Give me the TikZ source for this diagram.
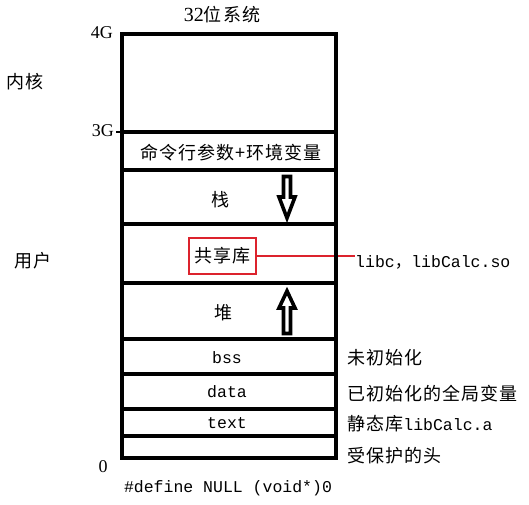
\documentclass[tikz,border=0pt]{standalone}
\usepackage{fontspec}
\setmainfont{Liberation Serif}
\setmonofont{Liberation Mono}
\newfontfamily\cjk[LetterSpace=6]{Noto Sans CJK SC}
\definecolor{libred}{RGB}{220,35,45}
\begin{document}
\begin{tikzpicture}[x=1pt,y=-1pt,
  outerbox/.style={line width=4.5pt},
  divider/.style={line width=4pt},
  hollow/.style={line width=3.6pt,fill=white,line join=miter},
  zh/.style={font=\cjk\fontsize{18}{18}\selectfont,inner sep=0pt},
  mono/.style={font=\ttfamily\fontsize{16.5}{16.5}\selectfont,inner sep=0pt},
  num/.style={font=\rmfamily\fontsize{18}{18}\selectfont,inner sep=0pt},
  redbox/.style={draw=libred,line width=2.6pt,minimum width=67pt,minimum height=36pt,inner sep=0pt},
  redline/.style={draw=libred,line width=2.4pt}]
\useasboundingbox (0,0) rectangle (529,504);
\fill[white] (0,0) rectangle (529,504);

% labels (title, addresses, regions)
\node[zh] (title) at (222,15) {{\rmfamily\fontsize{20}{20}\selectfont 32}位系统};
\node[num,anchor=east] (g4) at (113,33) {4G};
\node[num,anchor=east] (g3) at (114,131) {3G};
\node[num] (g0) at (103,467) {0};
\node[mono] (null) at (228,488) {\#define NULL (void*)0};
\node[zh] (kernel) at (25,82) {内核};
\node[zh] (user) at (33,261) {用户};

% segment labels
\node[zh] (cmd) at (231,153) {命令行参数+环境变量};
\node[zh] (stack) at (220,200) {栈};
\node[zh] (heap) at (223,313) {堆};
\node[mono] (bss) at (227,358) {bss};
\node[mono] (data) at (227,392) {data};
\node[mono] (text) at (227,423) {text};

% right-hand notes
\node[anchor=west,inner sep=0pt] (libc) at (355,262) {\ttfamily\fontsize{16.5}{16.5}\selectfont libc{\cjk，}libCalc.so};
\node[zh,anchor=west] (nbss) at (347,358) {未初始化};
\node[zh,anchor=west] (ndata) at (347,394) {已初始化的全局变量};
\node[anchor=west,inner sep=0pt] (ntext) at (347,424) {{\cjk\fontsize{18}{18}\selectfont 静态库}\ttfamily\fontsize{16.5}{16.5}\selectfont libCalc.a};
\node[zh,anchor=west] (nhead) at (347,456) {受保护的头};

% shared library box and its connector
\node[zh,redbox] (shlib) at (222.5,256) {共享库};
\draw[redline] (shlib.east) -- (shlib.east -| libc.west);

% arrows
\draw[hollow] (283.5,176.5) -- (290.5,176.5) -- (290.5,197) -- (295,197) -- (287,218) -- (279,197) -- (283.5,197) -- cycle;
\draw[hollow] (283.5,333.5) -- (290.5,333.5) -- (290.5,308) -- (295,308) -- (287,291) -- (279,308) -- (283.5,308) -- cycle;

% memory layout
\draw[line width=1.4pt] (116,132) -- (122,132);
\foreach \yy in {132,170,224,283,339,374,409,436}
  \draw[divider] (122,\yy) -- (336,\yy);
\draw[outerbox] (122,34) rectangle (336,458);
\end{tikzpicture}
\end{document}
